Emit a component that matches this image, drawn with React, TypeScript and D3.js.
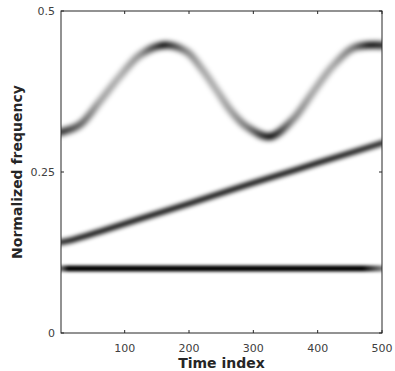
import * as d3 from 'd3';

const TIME_TICKS = [100, 200, 300, 400, 500];
const FREQ_TICKS = [0, 0.25, 0.5];

// ridges: time index, normalized frequency, darkness (0..1)
const SINE_T = [1, 30, 61, 92, 124, 160, 196, 220, 243, 265, 290, 326, 361, 392, 423, 454, 481, 500];
const SINE_F = [0.312, 0.323, 0.359, 0.398, 0.432, 0.447, 0.437, 0.41, 0.377, 0.345, 0.32, 0.305, 0.331, 0.373, 0.414, 0.442, 0.447, 0.447];
const SINE_I = [0.85, 0.65, 0.38, 0.33, 0.45, 1, 0.5, 0.36, 0.33, 0.4, 0.55, 1, 0.5, 0.36, 0.36, 0.55, 1, 0.9];

const CHIRP_T = [1, 20, 60, 120, 200, 300, 400, 500];
const CHIRP_F = [0.141, 0.145, 0.157, 0.176, 0.201, 0.233, 0.264, 0.295];
const CHIRP_I = [0.9, 0.95, 0.95, 0.95, 0.95, 0.95, 0.95, 0.9];

const TONE_T = [1, 12, 470, 500];
const TONE_F = [0.1, 0.1, 0.1, 0.1];
const TONE_I = [0.55, 1, 1, 0.5];

const W = 395;
const H = 371;
const margin = { top: 11, right: 13, bottom: 38, left: 61 };
const AXIS = '#262626';

export default function App() {
  const x = d3.scaleLinear().domain([1, 500]).range([margin.left, W - margin.right]);
  const y = d3.scaleLinear().domain([0, 0.5]).range([H - margin.bottom, margin.top]);
  const [x0, x1] = x.range();
  const [yb, yt] = y.range();

  const ridges = [
    { id: 'sine', t: SINE_T, f: SINE_F, i: SINE_I, width: 7, blur: 2.9 },
    { id: 'chirp', t: CHIRP_T, f: CHIRP_F, i: CHIRP_I, width: 5.5, blur: 2.1 },
    { id: 'tone', t: TONE_T, f: TONE_F, i: TONE_I, width: 6, blur: 1.7 },
  ];

  const line = d3
    .line<[number, number]>()
    .x((d) => x(d[0]))
    .y((d) => y(d[1]))
    .curve(d3.curveCatmullRom.alpha(0.5));

  return (
    <svg
      width={W}
      height={H}
      style={{ position: 'absolute', left: 0, top: 0, background: '#fff' }}
      fontFamily="DejaVu Sans, sans-serif"
    >
      <defs>
        <clipPath id="plot">
          <rect x={x0} y={yt} width={x1 - x0} height={yb - yt} />
        </clipPath>
        {ridges.map((r) => (
          <g key={r.id}>
            <linearGradient id={`g-${r.id}`} gradientUnits="userSpaceOnUse" x1={x0} x2={x1} y1={0} y2={0}>
              {r.t.map((t, k) => (
                <stop key={k} offset={(x(t) - x0) / (x1 - x0)} stopColor="#000" stopOpacity={r.i[k]} />
              ))}
            </linearGradient>
            <filter
              id={`b-${r.id}`}
              filterUnits="userSpaceOnUse"
              x={0}
              y={0}
              width={W}
              height={H}
            >
              <feGaussianBlur stdDeviation={r.blur} />
            </filter>
          </g>
        ))}
      </defs>

      <g clipPath="url(#plot)">
        {ridges.map((r) => (
          <path
            key={r.id}
            d={line(r.t.map((t, k) => [t, r.f[k]] as [number, number])) ?? ''}
            fill="none"
            stroke={`url(#g-${r.id})`}
            strokeWidth={r.width}
            strokeLinecap="square"
            filter={`url(#b-${r.id})`}
          />
        ))}
      </g>

      {/* box */}
      <rect x={x0} y={yt} width={x1 - x0} height={yb - yt} fill="none" stroke={AXIS} strokeWidth={1} />

      {TIME_TICKS.map((t) => (
        <g key={t}>
          <line x1={x(t)} x2={x(t)} y1={yb} y2={yb - 3} stroke={AXIS} />
          <line x1={x(t)} x2={x(t)} y1={yt} y2={yt + 3} stroke={AXIS} />
          <text x={x(t)} y={yb + 19} textAnchor="middle" fontSize={11} fill="#404040">
            {t}
          </text>
        </g>
      ))}
      {FREQ_TICKS.map((f) => (
        <g key={f}>
          <line x1={x0} x2={x0 + 3} y1={y(f)} y2={y(f)} stroke={AXIS} />
          <line x1={x1} x2={x1 - 3} y1={y(f)} y2={y(f)} stroke={AXIS} />
          <text x={x0 - 6} y={y(f)} dy="0.35em" textAnchor="end" fontSize={11} fill="#404040">
            {f}
          </text>
        </g>
      ))}

      <text x={(x0 + x1) / 2} y={H - 3} textAnchor="middle" fontSize={14} fontWeight="bold" fill={AXIS}>
        Time index
      </text>
      <text
        transform={`translate(17,${(yt + yb) / 2}) rotate(-90)`}
        dy="0.35em"
        textAnchor="middle"
        fontSize={14}
        fontWeight="bold"
        fill={AXIS}
      >
        Normalized frequency
      </text>
    </svg>
  );
}
